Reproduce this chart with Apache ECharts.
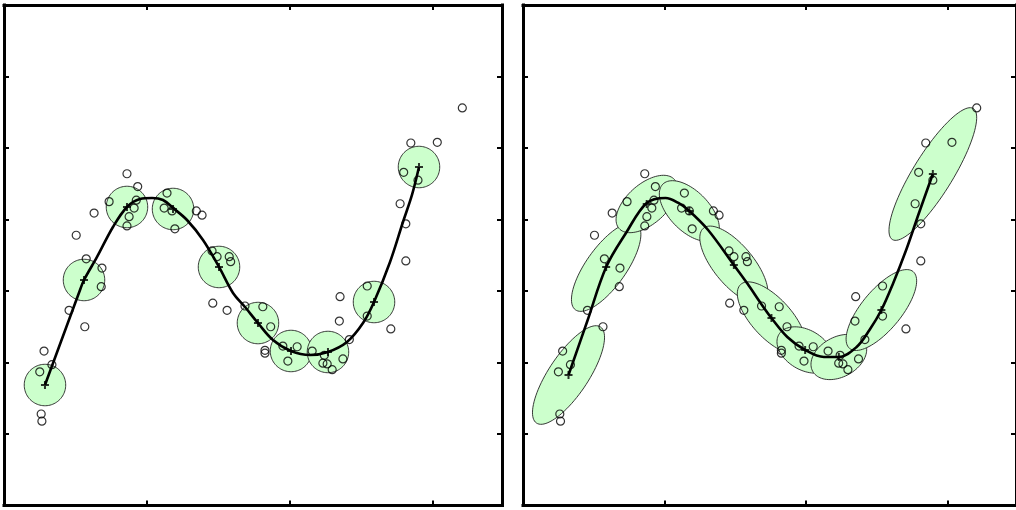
<!DOCTYPE html>
<html>
<head>
<meta charset="utf-8">
<script src="https://cdn.jsdelivr.net/npm/echarts@6/dist/echarts.min.js"></script>
<style>
  html, body { margin: 0; padding: 0; background: #ffffff; }
  #chart { width: 1016px; height: 510px; }
</style>
</head>
<body>
<div id="chart"></div>
<script>
// Noisy observations (shared by both panels)
const samples = [
  [0.52,1.28],[0.53,1.18],[0.50,1.87],[0.56,2.16],[0.67,1.97],[0.91,2.73],[1.13,2.50],
  [1.01,3.78],[1.15,3.45],[1.37,3.32],[1.36,3.06],[1.26,4.09],[1.47,4.25],[1.72,4.64],
  [1.87,4.46],[1.85,4.27],[1.82,4.16],[1.75,4.04],[1.72,3.91],[2.28,4.37],[2.24,4.16],
  [2.35,4.12],[2.39,3.87],[2.69,4.12],[2.77,4.06],[2.91,3.56],[2.98,3.48],[3.15,3.48],
  [3.17,3.41],[2.92,2.83],[3.12,2.73],[3.37,2.79],[3.62,2.78],[3.73,2.50],[3.65,2.17],
  [3.65,2.13],[3.90,2.23],[4.10,2.22],[3.97,2.02],[4.31,2.16],[4.48,2.10],[4.46,1.99],
  [4.52,1.98],[4.59,1.90],[4.74,2.05],[4.83,2.32],[4.70,2.92],[4.69,2.58],[5.08,3.07],
  [5.08,2.65],[5.41,2.47],[5.62,3.42],[5.62,3.94],[5.54,4.22],[5.59,4.66],[5.79,4.55],
  [5.69,5.07],[6.06,5.08],[6.41,5.56]
];

// Left panel: isotropic kernels
const leftCentres = [
  [0.573,1.685],[1.119,3.154],[1.720,4.175],[2.364,4.147],[3.007,3.336],
  [3.552,2.552],[4.014,2.161],[4.531,2.147],[5.175,2.846],[5.804,4.734]
];
const kernelRadius = 0.29;
const leftCurve = [
  [0.573,1.685],[1.063,3.014],[1.119,3.154],[1.301,3.476],[1.524,3.895],[1.720,4.175],
  [1.902,4.287],[2.070,4.301],[2.224,4.273],[2.364,4.161],[2.559,3.993],[2.783,3.713],
  [3.007,3.336],[3.203,2.972],[3.371,2.776],[3.552,2.552],[3.762,2.315],[4.014,2.161],
  [4.280,2.105],[4.531,2.147],[4.797,2.287],[5.021,2.552],[5.175,2.846],[5.399,3.406],
  [5.580,3.965],[5.706,4.343],[5.804,4.734]
];

// Right panel: oriented kernels
const rightCentres = [
  [0.643,1.825],[1.175,3.336],[1.748,4.217],[2.350,4.119],[2.979,3.364],
  [3.510,2.622],[3.986,2.175],[4.462,2.077],[5.063,2.734],[5.790,4.636]
];
const rightMajor = [0.81, 0.74, 0.52, 0.53, 0.67, 0.64, 0.43, 0.42, 0.70, 1.08];
const rightMinor = [0.28, 0.28, 0.28, 0.28, 0.28, 0.28, 0.28, 0.28, 0.28, 0.28];
const rightAngle = [56, 54, 41, -45, -50, -47, -30, 28, 50, 58];
const rightCurve = [
  [0.643,1.825],[0.909,2.580],[1.175,3.336],[1.455,3.811],[1.748,4.231],[2.014,4.301],
  [2.196,4.231],[2.350,4.119],[2.615,3.853],[2.979,3.364],[3.175,3.098],[3.357,2.832],
  [3.510,2.622],[3.734,2.357],[3.986,2.175],[4.252,2.077],[4.462,2.077],[4.713,2.217],
  [4.895,2.455],[5.063,2.734],[5.231,3.112],[5.413,3.573],[5.594,4.091],[5.790,4.636]
];

const X_MIN = 0, X_MAX = 6.965, X_STEP = 2;
const Y_MIN = 0, Y_MAX = 7, Y_STEP = 1;

const chart = echarts.init(document.getElementById('chart'), null, { renderer: 'canvas' });

function axisBase(gridIndex) {
  return {
    gridIndex: gridIndex,
    type: 'value',
    axisLabel: { show: false },
    splitLine: { show: false },
    axisLine: { show: true, onZero: false, lineStyle: { color: '#000', width: 3, cap: 'square' } },
    axisTick: { show: true, inside: true, length: 5, lineStyle: { color: '#000', width: 2 } }
  };
}
const xAxes = [], yAxes = [];
[0, 1].forEach(function (g) {
  ['bottom', 'top'].forEach(function (pos) {
    xAxes.push(Object.assign(axisBase(g), { position: pos, min: X_MIN, max: X_MAX, interval: X_STEP }));
  });
  ['left', 'right'].forEach(function (pos) {
    yAxes.push(Object.assign(axisBase(g), { position: pos, min: Y_MIN, max: Y_MAX, interval: Y_STEP }));
  });
});

// Ellipse outline in data space, projected through the axes
function renderKernel(params, api) {
  const cx = api.value(0), cy = api.value(1);
  const a = api.value(2), b = api.value(3), ang = api.value(4) * Math.PI / 180;
  const pts = [];
  const n = 90;
  for (let k = 0; k < n; k++) {
    const t = k / n * Math.PI * 2;
    const ex = a * Math.cos(t), ey = b * Math.sin(t);
    pts.push(api.coord([cx + ex * Math.cos(ang) - ey * Math.sin(ang),
                        cy + ex * Math.sin(ang) + ey * Math.cos(ang)]));
  }
  return {
    type: 'polygon',
    shape: { points: pts },
    style: { fill: '#ccffcc', stroke: '#222222', lineWidth: 0.9 }
  };
}

const plusSymbol = 'path://M3,0H5V3H8V5H5V8H3V5H0V3H3Z';

function panelSeries(g, kernels, curve, centres) {
  const xi = g * 2, yi = g * 2;
  return [
    {
      type: 'custom', xAxisIndex: xi, yAxisIndex: yi, z: 1,
      renderItem: renderKernel, data: kernels, silent: true, clip: false
    },
    {
      type: 'scatter', xAxisIndex: xi, yAxisIndex: yi, z: 2, data: samples,
      symbol: 'circle', symbolSize: 8, silent: true,
      itemStyle: { color: 'rgba(0,0,0,0)', borderColor: '#000', borderWidth: 1.2 }
    },
    {
      type: 'line', xAxisIndex: xi, yAxisIndex: yi, z: 3, data: curve,
      smooth: 0.35, showSymbol: false, silent: true,
      lineStyle: { color: '#000', width: 2.6 }
    },
    {
      type: 'scatter', xAxisIndex: xi, yAxisIndex: yi, z: 4, data: centres,
      symbol: plusSymbol, symbolSize: 8, silent: true,
      itemStyle: { color: '#000' }
    }
  ];
}

const leftKernels = leftCentres.map(function (c) { return [c[0], c[1], kernelRadius, kernelRadius, 0]; });
const rightKernels = rightCentres.map(function (c, i) {
  return [c[0], c[1], rightMajor[i], rightMinor[i], rightAngle[i]];
});

chart.setOption({
  animation: false,
  backgroundColor: '#ffffff',
  grid: [
    { left: 4, top: 5, width: 498, height: 500.5 },
    { left: 523, top: 5, width: 498, height: 500.5 }
  ],
  xAxis: xAxes,
  yAxis: yAxes,
  series: panelSeries(0, leftKernels, leftCurve, leftCentres)
    .concat(panelSeries(1, rightKernels, rightCurve, rightCentres))
});
</script>
</body>
</html>
